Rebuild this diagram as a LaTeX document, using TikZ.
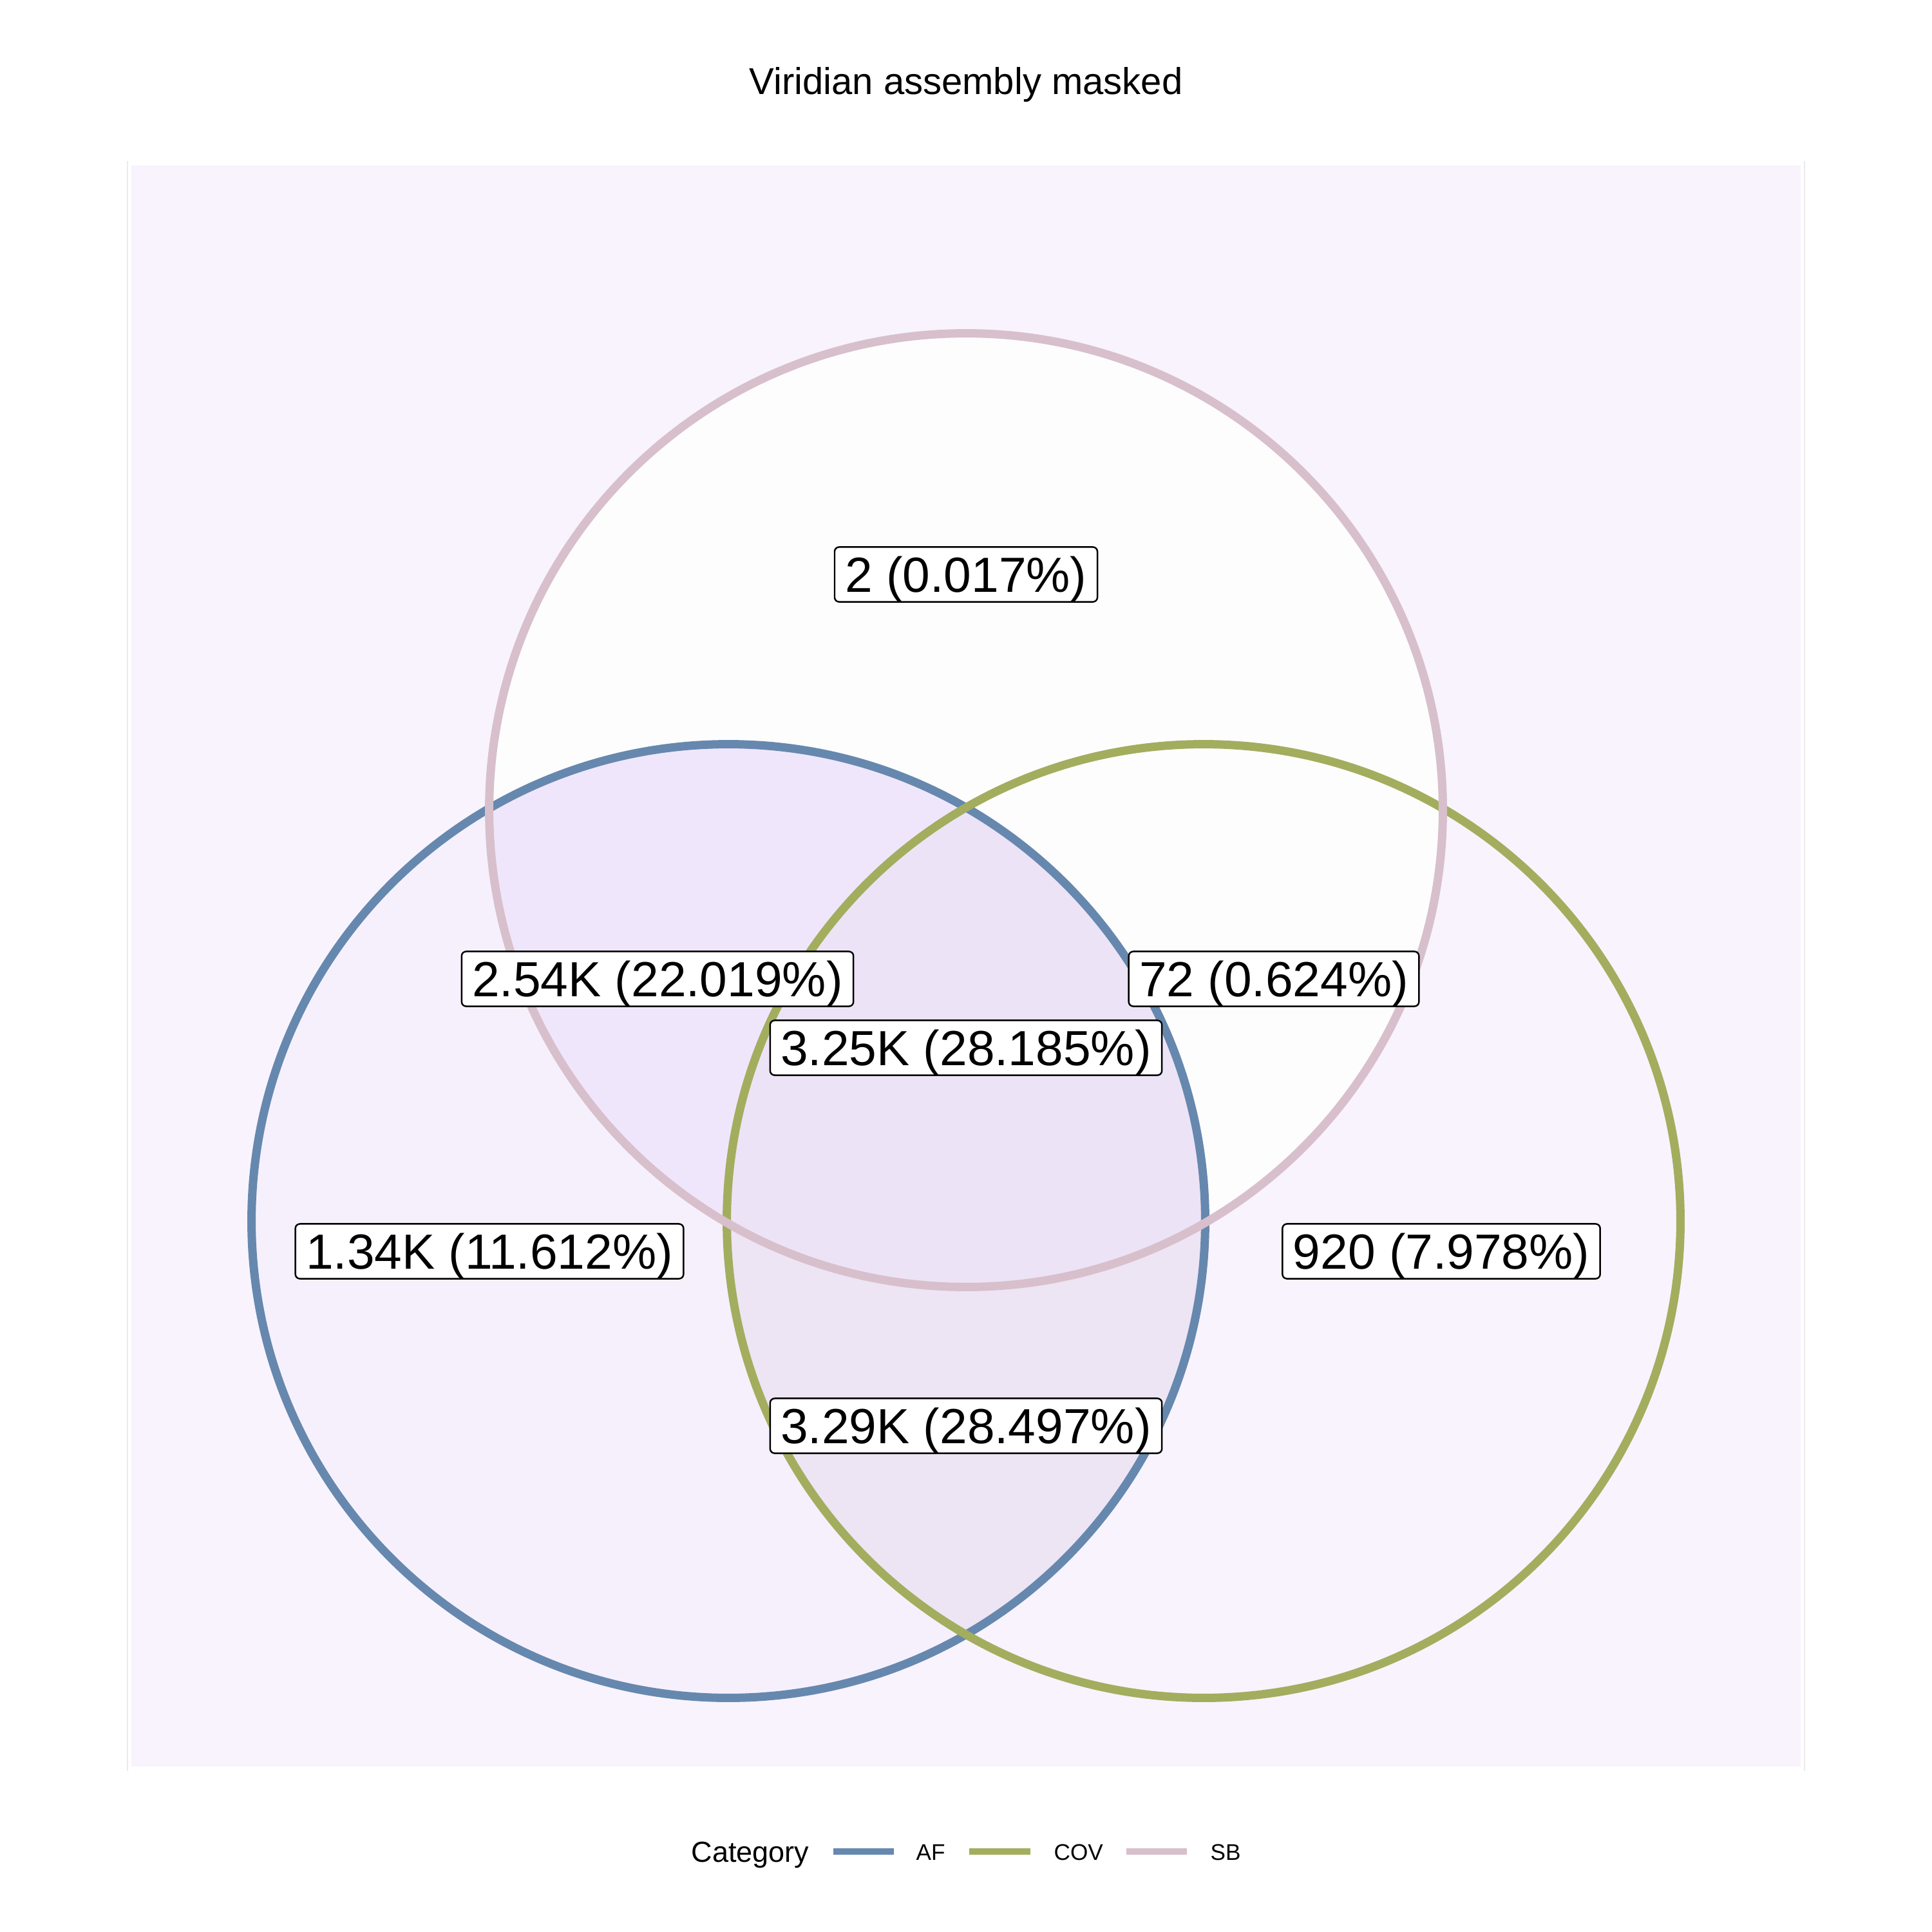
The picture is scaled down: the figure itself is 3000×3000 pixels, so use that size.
\documentclass[tikz,border=0pt]{standalone}
\usepackage{fontspec}
\setmainfont{Liberation Sans}
\usetikzlibrary{calc}
\definecolor{afline}{HTML}{6688AE}
\definecolor{covline}{HTML}{A3AD5E}
\definecolor{sbline}{HTML}{D8BFCC}
\definecolor{panelbg}{HTML}{F8F3FD}
\definecolor{afonly}{HTML}{F6F0FD}
\definecolor{covonly}{HTML}{F8F3FD}
\definecolor{sbonly}{HTML}{FDFDFD}
\definecolor{afsb}{HTML}{F0E6FB}
\definecolor{covsb}{HTML}{FDFDFD}
\definecolor{afcov}{HTML}{EDE4F4}
\definecolor{allthree}{HTML}{EDE3F6}
\definecolor{gridgrey}{HTML}{EBEBEB}
\tikzset{
  venn edge/.style={line width=3.7pt},
  count label/.style={draw=black,line width=0.7pt,fill=white,rounded corners=2pt,
    font=\fontsize{21.8}{24}\selectfont,text height=15.6pt,text depth=0pt,
    inner xsep=4.7pt,inner ysep=4.3pt},
  legend key/.style={line width=3pt},
  legend text/.style={anchor=base west,inner sep=0pt,font=\fontsize{10}{12}\selectfont},
}
\begin{document}
\begin{tikzpicture}[x=0.01cm,y=-0.01cm]
              \useasboundingbox (0,0) rectangle (3000,3000);
              \fill[white] (0,0) rectangle (3000,3000);
              % panel
              \fill[panelbg] (204,257) rectangle (2796,2743);
              \coordinate (LT) at (198,250);
              \coordinate (LB) at (198,2750);
              \coordinate (RT) at (2802,250);
              \coordinate (RB) at (2802,2750);
              \draw[gridgrey,line width=0.6pt] (LT)--(LB);
              \draw[gridgrey,line width=0.6pt] (RT)--(RB);
              % set centres
              \coordinate (AF) at (1131,1896);
              \coordinate (COV) at (1869,1896);
              \coordinate (SB) at (1500,1258);
              % regions
              \fill[afonly] (AF) circle[radius=7.4cm];
              \fill[covonly] (COV) circle[radius=7.4cm];
              \fill[sbonly] (SB) circle[radius=7.4cm];
              \begin{scope}
                \clip (COV) circle[radius=7.4cm];
                \fill[covsb] (SB) circle[radius=7.4cm];
              \end{scope}
              \begin{scope}
                \clip (AF) circle[radius=7.4cm];
                \fill[afsb] (SB) circle[radius=7.4cm];
                \fill[afcov] (COV) circle[radius=7.4cm];
                \clip (COV) circle[radius=7.4cm];
                \fill[allthree] (SB) circle[radius=7.4cm];
              \end{scope}
              % edges
              \draw[venn edge,afline] (AF) circle[radius=7.4cm];
              \draw[venn edge,covline] (COV) circle[radius=7.4cm];
              \draw[venn edge,sbline] (SB) circle[radius=7.4cm];
              % counts
              \node[count label] (nSB) at (1500,892) {2 (0.017\%)};
              \node[count label] (nAFSB) at (1021,1520) {2.54K (22.019\%)};
              \node[count label] (nCOVSB) at (1978,1520) {72 (0.624\%)};
              \node[count label] (nALL) at (1500,1627) {3.25K (28.185\%)};
              \node[count label] (nAF) at (760,1943) {1.34K (11.612\%)};
              \node[count label] (nCOV) at (2238,1943) {920 (7.978\%)};
              \node[count label] (nAFCOV) at (1500,2214) {3.29K (28.497\%)};
              % title
              \node[anchor=base,inner sep=0pt,font=\fontsize{16.5}{20}\selectfont] (title) at (1500,147) {Viridian assembly masked};
              % legend
              \node[legend text,font=\fontsize{12.8}{15}\selectfont] (category) at (1073,2891) {Category};
              \coordinate (AFa) at (1294,2875);
              \coordinate (AFb) at (1388,2875);
              \coordinate (COVa) at (1505,2875);
              \coordinate (COVb) at (1600,2875);
              \coordinate (SBa) at (1749,2875);
              \coordinate (SBb) at (1843,2875);
              \draw[legend key,afline] (AFa)--(AFb);
              \draw[legend key,covline] (COVa)--(COVb);
              \draw[legend key,sbline] (SBa)--(SBb);
              \node[legend text] (lAF) at (1422,2888) {AF};
              \node[legend text] (lCOV) at (1636,2888) {COV};
              \node[legend text] (lSB) at (1879,2888) {SB};
            \end{tikzpicture}
\end{document}
